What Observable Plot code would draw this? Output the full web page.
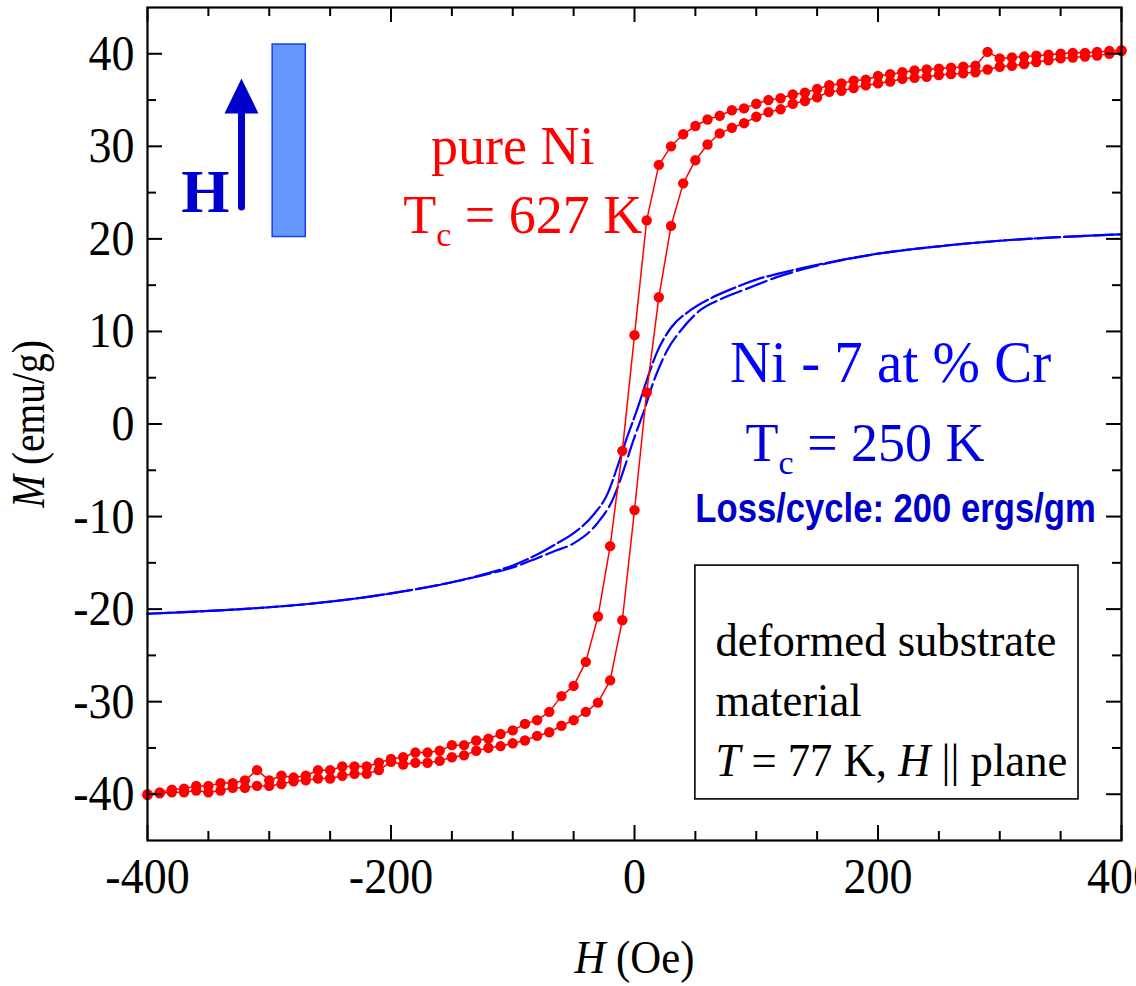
<!DOCTYPE html>
<html><head><meta charset="utf-8">
<script src="https://cdn.jsdelivr.net/npm/d3@7"></script>
<script src="https://cdn.jsdelivr.net/npm/@observablehq/plot@0.6"></script>
<style>
html,body{margin:0;padding:0;background:#fff;overflow:hidden;}
</style>
</head><body><div id="chart"></div>
<script>
// ---------- data ----------
// pure Ni: field H (Oe) for both loop branches
const redH = [-400,-390,-380,-370,-360,-350,-340,-330,-320,-310,-300,-290,-280,-270,-260,-250,-240,-230,-220,-210,-200,-190,-180,-170,-160,-150,-140,-130,-120,-110,-100,-90,-80,-70,-60,-50,-40,-30,-20,-10,0,10,20,30,40,50,60,70,80,90,100,110,120,130,140,150,160,170,180,190,200,210,220,230,240,250,260,270,280,290,300,310,320,330,340,350,360,370,380,390,400];
// pure Ni, descending branch M (emu/g)
const redDescM = [-40.0,-39.8,-39.5,-39.4,-39.1,-39.1,-38.8,-38.8,-38.5,-37.4,
  -38.5,-38.0,-38.2,-38.0,-37.4,-37.4,-37.0,-37.0,-37.0,-36.6,
  -36.2,-36.0,-35.5,-35.5,-35.3,-34.7,-34.7,-34.2,-34.0,-33.5,
  -33.1,-32.4,-32.0,-31.1,-29.4,-28.3,-25.7,-20.8,-13.2,-2.9,
  9.6,
  22.0,28.0,30.0,31.3,32.2,32.9,33.3,33.9,34.1,34.6,
  35.0,35.2,35.6,35.8,36.2,36.6,36.8,37.1,37.2,37.6,
  37.8,38.0,38.2,38.3,38.4,38.5,38.6,38.7,40.2,39.5,
  39.6,39.7,39.8,39.9,40.0,40.1,40.1,40.2,40.3,40.4];
// pure Ni, ascending branch M (emu/g)
const redAscM = [-40.1,-39.9,-39.8,-39.8,-39.6,-39.8,-39.6,-39.3,-39.3,-39.1,
  -39.1,-38.9,-38.6,-38.5,-38.3,-38.3,-38.0,-37.8,-37.8,-37.4,
  -36.5,-36.8,-36.6,-36.6,-36.4,-36.0,-35.8,-35.3,-35.0,-34.8,
  -34.5,-34.2,-33.7,-33.3,-32.6,-32.0,-31.1,-30.1,-27.7,-21.2,
  -9.3,
  3.4,13.7,21.4,26.0,28.5,30.2,31.4,32.0,32.5,33.2,
  33.7,34.0,34.6,34.9,35.3,35.9,36.0,36.3,36.6,36.8,
  37.0,37.3,37.4,37.5,37.7,37.8,37.9,38.0,38.3,38.6,
  38.7,38.9,39.1,39.3,39.5,39.6,39.7,39.8,40.0,40.3];

// Ni - 7 at% Cr loop
const blueDescH = [-400,-350,-300,-250,-200,-150,-120,-100,-80,-65,-50,-33,-22,-14,-6,2,10,18,30,45,60,80,100,120,150,200,250,300,350,400];
const blueDescM = [-20.5,-20.2,-19.8,-19.2,-18.3,-17.1,-16.1,-15.3,-14.1,-13.0,-11.8,-9.7,-7.5,-4.6,-1.4,1.5,4.7,7.6,10.4,12.2,13.4,14.6,15.6,16.3,17.2,18.4,19.2,19.8,20.2,20.5];
const blueAscH = [-400,-350,-300,-250,-200,-150,-120,-100,-80,-65,-50,-31,-17,-9,-1,8,16,27,38,54,71,92,120,150,200,250,300,350,400];
const blueAscM = [-20.5,-20.2,-19.8,-19.2,-18.3,-17.1,-16.2,-15.5,-14.5,-13.7,-12.9,-10.8,-7.9,-5.0,-1.8,1.5,4.7,8.0,10.1,12.3,13.5,14.6,16.0,17.1,18.4,19.2,19.8,20.2,20.5];

// ticks
const xMajorTicks = [-400,-200,0,200,400];
const xTickLabels = ["-400","-200","0","200","400"];
const xMinorTicks = [-350,-300,-250,-150,-100,-50,50,100,150,250,300,350];
const yMajorTicks = [-40,-30,-20,-10,0,10,20,30,40];
const yTickLabels = ["-40","-30","-20","-10","0","10","20","30","40"];
const yMinorTicks = [-35,-25,-15,-5,5,15,25,35];

// texts
const xTitle = "*H* (Oe)";
const yTitle = "*M* (emu/g)";
const niLabel = "pure Ni";
const niTc = "T_c_ = 627 K";
const crLabel = "Ni - 7 at % Cr";
const crTc = "T_c_ = 250 K";
const lossLabel = "Loss/cycle: 200 ergs/gm";
const fieldLabel = "H";
const boxLines = ["deformed substrate", "material", "*T* = 77 K, *H* || plane"];

// ---------- build ----------
const redDesc = redH.map((h, i) => ({H: h, M: redDescM[i]}));
const redAsc = redH.map((h, i) => ({H: h, M: redAscM[i]}));
const blueDesc = blueDescH.map((h, i) => ({H: h, M: blueDescM[i]}));
const blueAsc = blueAscH.map((h, i) => ({H: h, M: blueAscM[i]}));

const W = 1136, Hh = 986;
const mL = 147, mR = 15, mT = 7, mB = 146;
const innerW = W - mL - mR, innerH = Hh - mT - mB;
const serif = "'Liberation Serif','Times New Roman',serif";

const arrowHead = {
  draw(ctx, size) {
    const r = Math.sqrt(size / Math.PI);
    ctx.moveTo(0, -r);
    ctx.lineTo(r * 0.97, r);
    ctx.lineTo(-r * 0.97, r);
    ctx.closePath();
  }
};

const majorLen = 15, minorLen = 9;

const plot = Plot.plot({
  width: W, height: Hh,
  marginLeft: mL, marginRight: mR, marginTop: mT, marginBottom: mB,
  style: {fontFamily: serif, fontSize: "46px", background: "white", color: "black"},
  x: {domain: [-400, 400], axis: null},
  y: {domain: [-45, 45], axis: null},
  marks: [
    // legend box
    Plot.rect([{x1: 50, x2: 364.7, y1: -40.56, y2: -15.3}], {x1: "x1", x2: "x2", y1: "y1", y2: "y2", fill: "white", stroke: "black", strokeWidth: 1.6}),
    // sample bar + field arrow
    Plot.rect([{x1: -297.2, x2: -270.0, y1: 20.2, y2: 41.0}], {x1: "x1", x2: "x2", y1: "y1", y2: "y2", fill: "#6699ff", stroke: "#1a3cf0", strokeWidth: 1.5}),
    Plot.ruleX([-322.8], {x: d => d, y1: 23.4, y2: 34.0, stroke: "#0000cc", strokeWidth: 7, strokeLinecap: "round"}),
    Plot.dot([{H: -322.8, M: 35.45}], {x: "H", y: "M", symbol: arrowHead, r: 17.5, fill: "#0000cc", stroke: "none"}),
    // blue loop
    Plot.line(blueDesc, {x: "H", y: "M", stroke: "#0000ff", strokeWidth: 2.2, strokeDasharray: "26,4", curve: "monotone-x"}),
    Plot.line(blueAsc, {x: "H", y: "M", stroke: "#0000ff", strokeWidth: 2.2, strokeDasharray: "22,5", curve: "monotone-x"}),
    // red loop
    Plot.line(redDesc, {x: "H", y: "M", stroke: "#ff0000", strokeWidth: 1.5}),
    Plot.line(redAsc, {x: "H", y: "M", stroke: "#ff0000", strokeWidth: 1.5}),
    Plot.dot(redDesc, {x: "H", y: "M", r: 5.2, fill: "#ff0000", stroke: "none"}),
    Plot.dot(redAsc, {x: "H", y: "M", r: 5.2, fill: "#ff0000", stroke: "none"}),
    // frame and inward ticks on all four sides
    Plot.frame({stroke: "black", strokeWidth: 2.2}),
    Plot.ruleX(xMajorTicks, {x: d => d, insetTop: innerH - majorLen, stroke: "black", strokeWidth: 2}),
    Plot.ruleX(xMajorTicks, {x: d => d, insetBottom: innerH - majorLen, stroke: "black", strokeWidth: 2}),
    Plot.ruleX(xMinorTicks, {x: d => d, insetTop: innerH - minorLen, stroke: "black", strokeWidth: 2}),
    Plot.ruleX(xMinorTicks, {x: d => d, insetBottom: innerH - minorLen, stroke: "black", strokeWidth: 2}),
    Plot.ruleY(yMajorTicks, {y: d => d, insetRight: innerW - majorLen, stroke: "black", strokeWidth: 2}),
    Plot.ruleY(yMajorTicks, {y: d => d, insetLeft: innerW - majorLen, stroke: "black", strokeWidth: 2}),
    Plot.ruleY(yMinorTicks, {y: d => d, insetRight: innerW - minorLen, stroke: "black", strokeWidth: 2}),
    Plot.ruleY(yMinorTicks, {y: d => d, insetLeft: innerW - minorLen, stroke: "black", strokeWidth: 2}),
    // tick labels
    Plot.axisX({ticks: xMajorTicks, anchor: "bottom", tickSize: 0, tickPadding: 17, fontSize: 50, tickFormat: d => xTickLabels[xMajorTicks.indexOf(d)], label: null}),
    Plot.axisY({ticks: yMajorTicks, anchor: "left", tickSize: 0, tickPadding: 13, fontSize: 50, tickFormat: d => yTickLabels[yMajorTicks.indexOf(d)], label: null}),
    // axis titles
    Plot.text([0], {x: d => d, text: () => xTitle, frameAnchor: "bottom", dy: 118, fontSize: 46, textAnchor: "middle", lineAnchor: "middle", ariaLabel: () => "x title"}),
    Plot.text([0], {y: d => d, text: () => yTitle, frameAnchor: "left", dx: -119, rotate: -90, fontSize: 47, textAnchor: "middle", lineAnchor: "middle", ariaLabel: () => "y title"}),
    // annotations
    Plot.text([{H: -100, M: 30.0}], {x: "H", y: "M", text: () => niLabel, fontSize: 54, fill: "#ff0000", textAnchor: "middle", lineAnchor: "middle"}),
    Plot.text([{H: -190, M: 22.5}], {x: "H", y: "M", text: () => niTc, fontSize: 54, fill: "#ff0000", textAnchor: "start", lineAnchor: "middle"}),
    Plot.text([{H: 210.3, M: 6.6}], {x: "H", y: "M", text: () => crLabel, fontSize: 60, fill: "#0000ff", textAnchor: "middle", lineAnchor: "middle", ariaLabel: () => "cr label"}),
    Plot.text([{H: 91.2, M: -2.1}], {x: "H", y: "M", text: () => crTc, fontSize: 54, fill: "#0000dd", textAnchor: "start", lineAnchor: "middle"}),
    Plot.text([{H: 214.4, M: -9.17}], {x: "H", y: "M", text: () => lossLabel, fontSize: 41, fontWeight: "bold", fontFamily: "'Liberation Sans Narrow','Arial Narrow','Liberation Sans',Arial,sans-serif", fill: "#0000cc", textAnchor: "middle", lineAnchor: "middle", ariaLabel: () => "loss label"}),
    Plot.text([{H: -352.4, M: 25.0}], {x: "H", y: "M", text: () => fieldLabel, fontSize: 62, fontWeight: "bold", fill: "#0000cc", textAnchor: "middle", lineAnchor: "middle"}),
    Plot.text([{H: 66.5, M: -23.42}, {H: 66.5, M: -29.9}, {H: 66.5, M: -36.4}], {x: "H", y: "M", text: (d, i) => boxLines[i], fontSize: 47, fill: "black", textAnchor: "start", lineAnchor: "middle", ariaLabel: () => "box text"})
  ]
});

// rich text: *italic*, _subscript_
function richify(svg) {
  svg.querySelectorAll("text").forEach(t => {
    if (t.querySelector("tspan")) return;
    const s = t.textContent;
    if (!/[*_]/.test(s)) return;
    const parts = s.match(/\*[^*]+\*|_[^_]+_|[^*_]+/g);
    t.textContent = "";
    let pendingUp = 0;
    for (const p of parts) {
      const ts = document.createElementNS("http://www.w3.org/2000/svg", "tspan");
      if (p.startsWith("*")) {
        ts.textContent = p.slice(1, -1);
        ts.setAttribute("font-style", "italic");
      } else if (p.startsWith("_")) {
        ts.textContent = p.slice(1, -1);
        ts.setAttribute("font-size", "34");
        ts.setAttribute("dy", "13");
        pendingUp = -13;
      } else {
        ts.textContent = p;
      }
      if (!p.startsWith("_") && pendingUp) { ts.setAttribute("dy", String(pendingUp)); pendingUp = 0; }
      t.appendChild(ts);
    }
  });
}
richify(plot);
// horizontal condensing (the reference typeface is narrower than Liberation)
function squeeze(label, sx, isGroup) {
  const sel = isGroup ? `g[aria-label="${label}"] text` : `text[aria-label="${label}"]`;
  plot.querySelectorAll(sel).forEach(t => {
    const tr = t.getAttribute("transform");
    if (tr) t.setAttribute("transform", tr + ` scale(${sx},1)`);
  });
}
squeeze("x-axis tick label", 0.92, true);
squeeze("y-axis tick label", 0.92, true);
squeeze("y title", 0.84);
squeeze("x title", 0.93);
squeeze("loss label", 0.845);
squeeze("cr label", 0.95);
squeeze("box text", 0.95);
// drop the helper aria labels from the texts so they stay plain
document.getElementById("chart").appendChild(plot);
</script>
</body></html>
